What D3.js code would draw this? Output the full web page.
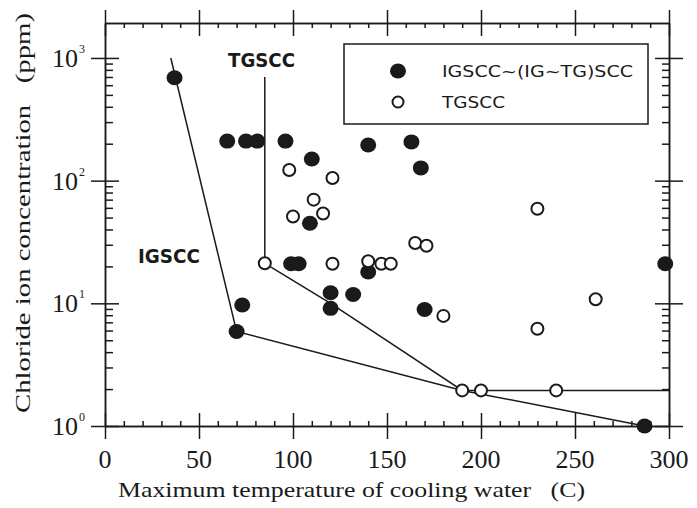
<!DOCTYPE html>
<html>
<head>
<meta charset="utf-8">
<script src="https://cdn.jsdelivr.net/npm/d3@7"></script>
<style>
  body { margin: 0; background: #fff; }
  svg { display: block; }
  text { white-space: pre; }
</style>
</head>
<body>
<div id="chart"></div>
<script>
// tick values
const xTicks = [0, 50, 100, 150, 200, 250, 300];
const yTicks = [1, 10, 100, 1000];
const yExps = ["0", "1", "2", "3"];

// IGSCC + (IG+TG)SCC  (filled)
const igTemp = [37, 65, 75, 81, 96, 110, 109, 99, 103, 140, 163, 168, 140, 298, 120, 120, 132, 170, 287, 73, 70];
const igCl   = [690, 210, 210, 210, 210, 150, 45, 21, 21, 195, 207, 127, 18, 21, 12.2, 9.1, 11.8, 8.9, 1.0, 9.7, 5.9];

// TGSCC  (open)
const tgTemp = [98, 121, 111, 116, 100, 85, 121, 230, 165, 171, 140, 147, 152, 180, 261, 230, 190, 200, 240];
const tgCl   = [122, 105, 70, 54, 51, 21.2, 21, 59, 31, 29.5, 22, 21, 21, 7.9, 10.8, 6.2, 1.95, 1.95, 1.95];

// boundary lines
const igLineTemp = [35, 70, 190, 287];
const igLineCl   = [1000, 5.9, 1.95, 1.0];
const tgLineTemp = [85, 85, 120, 190, 300];
const tgLineCl   = [700, 21.2, 10, 1.95, 1.95];

const W = 697, H = 508;
const pl = 105, pr = 669, pt = 23, pb = 426;

const svg = d3.select("#chart").append("svg")
    .attr("width", W)
    .attr("height", H);

const x = d3.scaleLinear().domain([0, 300]).range([pl, pr]);
const y = d3.scaleLog().domain([1, Math.pow(10, 3.285)]).range([pb, pt]);

const ink = "#1a1a1a";
const serif = "'Liberation Serif', 'DejaVu Serif', serif";
const sans = "'DejaVu Sans', sans-serif";

// minor ticks
const xMinor = d3.range(0, 301, 10).filter(v => v % 50 !== 0);
const yMinor = [];
[1, 10, 100, 1000].forEach(d => { for (let k = 2; k <= 9; k++) if (d * k < y.domain()[1]) yMinor.push(d * k); });

function styleAxis(g) {
  g.select(".domain").attr("stroke", ink).attr("stroke-width", 1.5);
  g.selectAll(".tick line").attr("stroke", ink).attr("stroke-width", 1.5);
  g.selectAll(".tick text").remove();
}

// bottom
svg.append("g").attr("transform", `translate(0,${pb})`)
  .call(d3.axisBottom(x).tickValues(xTicks).tickSize(13).tickSizeOuter(0).tickFormat(""))
  .call(styleAxis)
  .call(g => g.selectAll(".tick line").attr("y1", -13));
svg.append("g").attr("transform", `translate(0,${pb})`)
  .call(d3.axisBottom(x).tickValues(xMinor).tickSize(-5).tickSizeOuter(0).tickFormat(""))
  .call(styleAxis);

// top
svg.append("g").attr("transform", `translate(0,${pt})`)
  .call(d3.axisTop(x).tickValues(xTicks).tickSize(13).tickSizeOuter(0).tickFormat(""))
  .call(styleAxis)
  .call(g => g.selectAll(".tick line").attr("y1", 13));
svg.append("g").attr("transform", `translate(0,${pt})`)
  .call(d3.axisTop(x).tickValues(xMinor).tickSize(-5).tickSizeOuter(0).tickFormat(""))
  .call(styleAxis);

// left
svg.append("g").attr("transform", `translate(${pl},0)`)
  .call(d3.axisLeft(y).tickValues(yTicks).tickSize(14).tickSizeOuter(0).tickFormat(""))
  .call(styleAxis)
  .call(g => g.selectAll(".tick line").attr("x1", 14));
svg.append("g").attr("transform", `translate(${pl},0)`)
  .call(d3.axisLeft(y).tickValues(yMinor).tickSize(-8).tickSizeOuter(0).tickFormat(""))
  .call(styleAxis);

// right
svg.append("g").attr("transform", `translate(${pr},0)`)
  .call(d3.axisRight(y).tickValues(yTicks).tickSize(14).tickSizeOuter(0).tickFormat(""))
  .call(styleAxis)
  .call(g => g.selectAll(".tick line").attr("x1", -14));
svg.append("g").attr("transform", `translate(${pr},0)`)
  .call(d3.axisRight(y).tickValues(yMinor).tickSize(-7).tickSizeOuter(0).tickFormat(""))
  .call(styleAxis);

// tick labels
svg.selectAll(".xlab").data(xTicks).join("text")
  .attr("x", d => x(d)).attr("y", 468)
  .attr("text-anchor", "middle")
  .attr("font-family", serif).attr("font-size", 26).attr("fill", ink)
  .text(d => d);

svg.selectAll(".ylab").data(yTicks).join("text")
  .attr("x", 78).attr("y", d => y(d) + 9)
  .attr("text-anchor", "end")
  .attr("font-family", serif).attr("font-size", 26).attr("fill", ink)
  .text("10");
svg.selectAll(".yexp").data(yTicks).join("text")
  .attr("x", 79).attr("y", d => y(d) - 5)
  .attr("font-family", serif).attr("font-size", 12).attr("fill", ink)
  .text((d, i) => yExps[i]);

// axis titles
svg.append("text")
  .attr("x", 118).attr("y", 497)
  .attr("font-family", serif).attr("font-size", 22).attr("fill", ink)
  .attr("textLength", 467).attr("lengthAdjust", "spacingAndGlyphs")
  .text("Maximum temperature of cooling water   (C)");

svg.append("text")
  .attr("transform", "translate(30,413) rotate(-90)")
  .attr("font-family", serif).attr("font-size", 22).attr("fill", ink)
  .attr("textLength", 400).attr("lengthAdjust", "spacingAndGlyphs")
  .text("Chloride ion concentration   (ppm)");

// boundary lines
const line = d3.line().x(d => x(d[0])).y(d => y(d[1]));
svg.append("path")
  .datum(igLineTemp.map((t, i) => [t, igLineCl[i]]))
  .attr("d", line).attr("fill", "none").attr("stroke", ink).attr("stroke-width", 1.5);
svg.append("path")
  .datum(tgLineTemp.map((t, i) => [t, tgLineCl[i]]))
  .attr("d", line).attr("fill", "none").attr("stroke", ink).attr("stroke-width", 1.5);

// points
svg.selectAll(".ig").data(igTemp.map((t, i) => [t, igCl[i]])).join("ellipse")
  .attr("cx", d => x(d[0])).attr("cy", d => y(d[1]))
  .attr("rx", 8).attr("ry", 7.5)
  .attr("fill", ink);

svg.selectAll(".tg").data(tgTemp.map((t, i) => [t, tgCl[i]])).join("circle")
  .attr("cx", d => x(d[0])).attr("cy", d => y(d[1]))
  .attr("r", 6)
  .attr("fill", "#fff").attr("stroke", ink).attr("stroke-width", 2);

// region labels
svg.append("text")
  .attr("x", 138).attr("y", 263)
  .attr("font-family", sans).attr("font-size", 19).attr("font-weight", "bold").attr("fill", ink)
  .attr("textLength", 62).attr("lengthAdjust", "spacingAndGlyphs")
  .text("IGSCC");
svg.append("text")
  .attr("x", 228).attr("y", 67)
  .attr("font-family", sans).attr("font-size", 19).attr("font-weight", "bold").attr("fill", ink)
  .attr("textLength", 67).attr("lengthAdjust", "spacingAndGlyphs")
  .text("TGSCC");

// legend
const lg = svg.append("g");
lg.append("rect")
  .attr("x", 344).attr("y", 44).attr("width", 304).attr("height", 80)
  .attr("fill", "#fff").attr("stroke", ink).attr("stroke-width", 1.5);
lg.append("ellipse").attr("cx", 398).attr("cy", 71).attr("rx", 8).attr("ry", 7.5).attr("fill", ink);
lg.append("circle").attr("cx", 398).attr("cy", 102).attr("r", 5.5)
  .attr("fill", "#fff").attr("stroke", ink).attr("stroke-width", 2);
lg.append("text")
  .attr("x", 442).attr("y", 77)
  .attr("font-family", sans).attr("font-size", 16).attr("fill", ink)
  .attr("textLength", 191).attr("lengthAdjust", "spacingAndGlyphs")
  .text("IGSCC~(IG~TG)SCC");
lg.append("text")
  .attr("x", 442).attr("y", 108)
  .attr("font-family", sans).attr("font-size", 16).attr("fill", ink)
  .attr("textLength", 63).attr("lengthAdjust", "spacingAndGlyphs")
  .text("TGSCC");
</script>
</body>
</html>
